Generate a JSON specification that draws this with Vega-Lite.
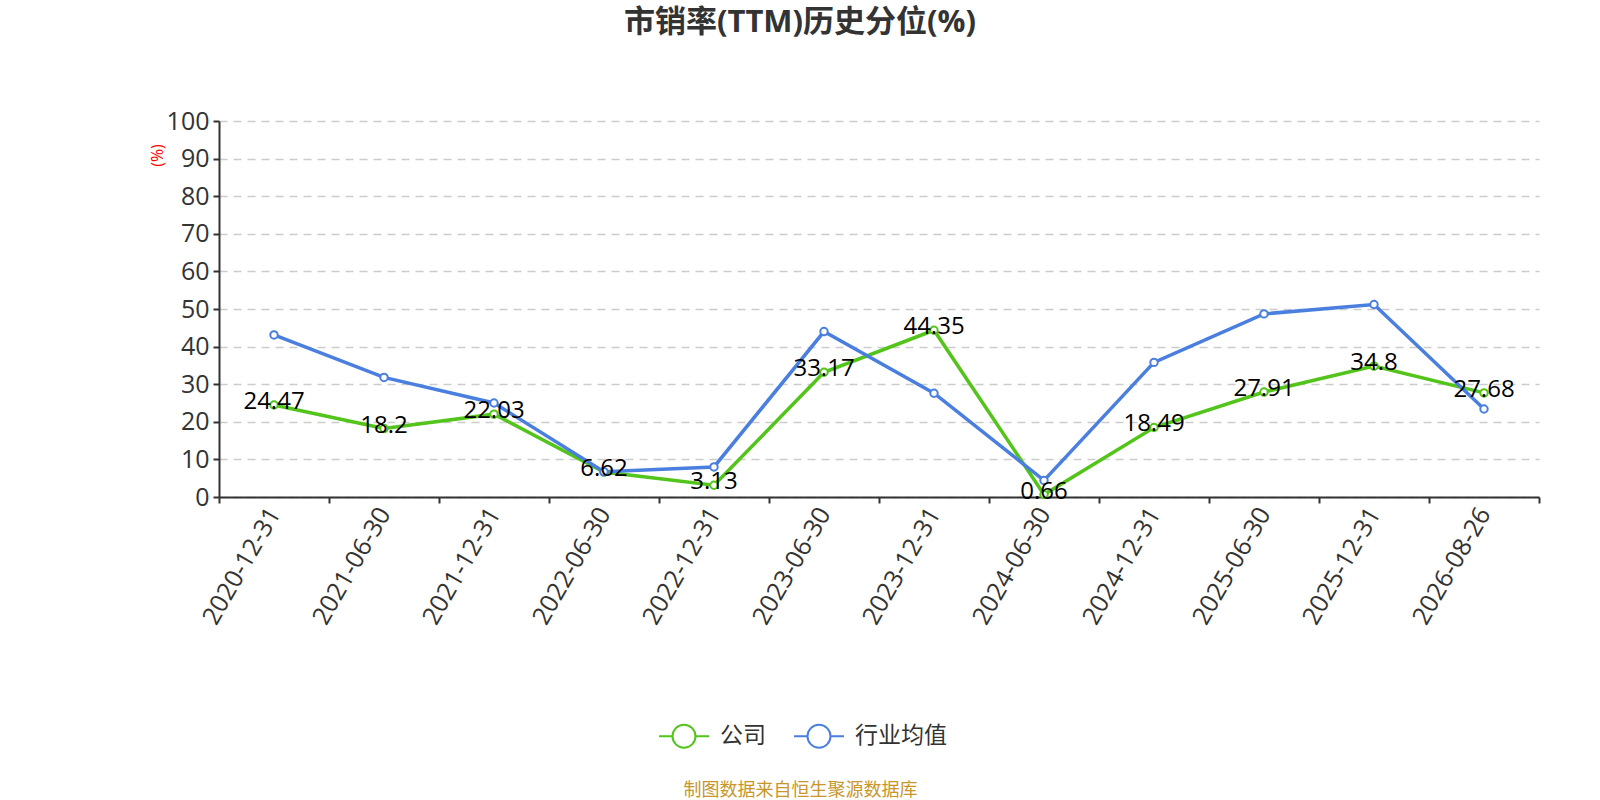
{
  "$schema": "https://vega.github.io/schema/vega-lite/v6.json",
  "autosize": "none",
  "width": 1320,
  "height": 376,
  "padding": {"left": 219, "top": 121, "right": 61, "bottom": 303},
  "background": "white",
  "title": {
    "text": "市销率(TTM)历史分位(%)",
    "fontSize": 31,
    "fontWeight": "bold",
    "color": "#333333",
    "font": "Open Sans, Noto Sans CJK SC",
    "anchor": "middle",
    "frame": "group",
    "dx": -79,
    "offset": 70
  },
  "data": {
    "values": [
      {"date": "2020-12-31", "series": "公司", "value": 24.47},
      {"date": "2021-06-30", "series": "公司", "value": 18.2},
      {"date": "2021-12-31", "series": "公司", "value": 22.03},
      {"date": "2022-06-30", "series": "公司", "value": 6.62},
      {"date": "2022-12-31", "series": "公司", "value": 3.13},
      {"date": "2023-06-30", "series": "公司", "value": 33.17},
      {"date": "2023-12-31", "series": "公司", "value": 44.35},
      {"date": "2024-06-30", "series": "公司", "value": 0.66},
      {"date": "2024-12-31", "series": "公司", "value": 18.49},
      {"date": "2025-06-30", "series": "公司", "value": 27.91},
      {"date": "2025-12-31", "series": "公司", "value": 34.8},
      {"date": "2026-08-26", "series": "公司", "value": 27.68},
      {"date": "2020-12-31", "series": "行业均值", "value": 43.1},
      {"date": "2021-06-30", "series": "行业均值", "value": 31.8},
      {"date": "2021-12-31", "series": "行业均值", "value": 25.0},
      {"date": "2022-06-30", "series": "行业均值", "value": 6.7},
      {"date": "2022-12-31", "series": "行业均值", "value": 8.0},
      {"date": "2023-06-30", "series": "行业均值", "value": 44.0},
      {"date": "2023-12-31", "series": "行业均值", "value": 27.6},
      {"date": "2024-06-30", "series": "行业均值", "value": 4.4},
      {"date": "2024-12-31", "series": "行业均值", "value": 35.8},
      {"date": "2025-06-30", "series": "行业均值", "value": 48.7},
      {"date": "2025-12-31", "series": "行业均值", "value": 51.2},
      {"date": "2026-08-26", "series": "行业均值", "value": 23.4}
    ]
  },
  "encoding": {
    "x": {
      "field": "date",
      "type": "nominal",
      "bandPosition": 0.5,
      "scale": {"type": "band", "paddingInner": 0, "paddingOuter": 0},
      "axis": {
        "title": "制图数据来自恒生聚源数据库",
        "titleColor": "#c8962a",
        "titleFontSize": 18,
        "titleFontWeight": "normal",
        "titleFont": "Noto Sans CJK SC",
        "titleX": 581,
        "titleY": 284,
        "titleAnchor": "middle",
        "labelAngle": -60,
        "labelAlign": "right",
        "labelBaseline": "middle",
        "labelFontSize": 25,
        "labelColor": "#333333",
        "labelPadding": 6,
        "tickBand": "extent",
        "tickSize": 6,
        "tickColor": "#333333",
        "domainColor": "#333333",
        "domainWidth": 2,
        "tickWidth": 2,
        "grid": false
      }
    },
    "y": {
      "field": "value",
      "type": "quantitative",
      "scale": {"domain": [0, 100], "nice": false},
      "axis": {
        "title": "(%)",
        "titleColor": "red",
        "titleFontSize": 16,
        "titleFontWeight": "normal",
        "titleX": -62,
        "titleY": 34,
        "titleAngle": -90,
        "titleAlign": "center",
        "titleBaseline": "middle",
        "values": [0, 10, 20, 30, 40, 50, 60, 70, 80, 90, 100],
        "labelFontSize": 25,
        "labelColor": "#333333",
        "labelPadding": 4,
        "tickSize": 6,
        "tickColor": "#333333",
        "tickWidth": 2,
        "domainColor": "#333333",
        "domainWidth": 2,
        "grid": true,
        "gridColor": "#cccccc",
        "gridDash": [8, 6],
        "gridWidth": 1.5
      }
    },
    "color": {
      "field": "series",
      "type": "nominal",
      "scale": {"domain": ["公司", "行业均值"], "range": ["#52c41a", "#4a7fe0"]},
      "legend": {
        "title": null,
        "orient": "none",
        "direction": "horizontal",
        "legendX": 439,
        "legendY": 589,
        "symbolType": "M-1,0L-0.46,0M0.46,0L1,0M0.46,0A0.46,0.46,0,1,1,-0.46,0A0.46,0.46,0,1,1,0.46,0Z",
        "symbolSize": 2500,
        "symbolStrokeWidth": 2,
        "symbolFillColor": "white",
        "labelFontSize": 23,
        "labelColor": "#333333",
        "labelFont": "Noto Sans CJK SC",
        "labelOffset": 10,
        "columnPadding": 24
      }
    }
  },
  "layer": [
    {
      "mark": {"type": "line", "strokeWidth": 3.5}
    },
    {
      "mark": {"type": "point", "filled": false, "fill": "white", "opacity": 1, "size": 55, "strokeWidth": 2}
    },
    {
      "transform": [{"filter": "datum.series === '公司'"}],
      "mark": {"type": "text", "fontSize": 24, "color": "#000000", "dy": -3, "font": "Open Sans"},
      "encoding": {
        "text": {"field": "value", "type": "quantitative"},
        "color": {"value": "#000000"}
      }
    }
  ],
  "config": {
    "font": "Open Sans, Noto Sans CJK SC",
    "view": {"stroke": null}
  }
}
